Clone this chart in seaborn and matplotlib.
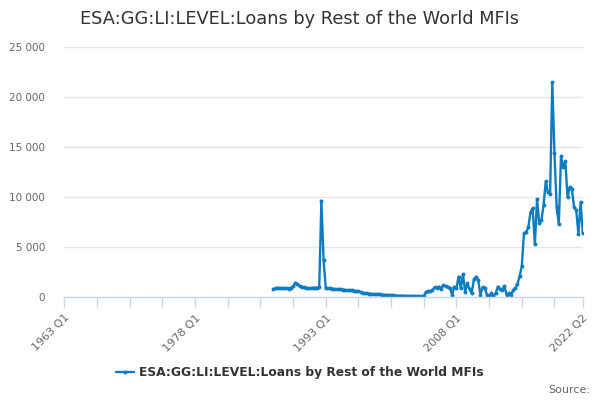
import matplotlib
matplotlib.use("Agg")
import matplotlib.pyplot as plt
import seaborn as sns
import pandas as pd
import numpy as np
from matplotlib.lines import Line2D

# ---- data ----
title = "ESA:GG:LI:LEVEL:Loans by Rest of the World MFIs"
series_name = "ESA:GG:LI:LEVEL:Loans by Rest of the World MFIs"
axis_start_year = 1963          # first category on the axis: 1963 Q1
data_start_year = 1987          # first observation: 1987 Q1
data_start_quarter = 1
tick_labels = ["1963 Q1", "1978 Q1", "1993 Q1", "2008 Q1", "2022 Q2"]
y_ticks = [0, 5000, 10000, 15000, 20000, 25000]

values = [
    # 1987 - 1992
    850, 900, 950, 900, 880, 920, 900, 870, 950, 1100, 1450, 1350,
    1100, 1050, 1000, 950, 920, 900, 930, 950, 960, 1000, 9650, 3730,
    # 1993 -
    950, 900, 880, 860, 850, 830, 800, 790, 770, 750, 730, 700,
    680, 650, 620, 600, 500, 420, 400, 380, 360, 340, 320, 300,
    300, 280, 260, 240, 220, 200, 190, 180, 170, 160, 150, 150,
    140, 130, 130, 120, 120, 110, 110, 100, 100, 100,
    # 2004 Q3 -
    550, 600, 580, 750, 1000, 900, 1060, 800, 1230, 1130, 1000, 900,
    250, 1060, 900, 2060, 900, 2300, 560, 1400, 800, 400, 1800, 2060,
    1700, 250, 1000, 900, 250, 80, 400, 80, 400, 1060, 800, 730,
    1130, 250, 400, 200, 700, 900, 1300, 2100, 3100,
    # 2015 Q3 -
    6400, 6500, 7000, 8500, 8900, 5300, 9800, 7400, 7700, 9200, 11600, 10500,
    10300, 21500, 14400, 9000, 7300, 14100, 13000, 13600, 10000, 11000, 10800, 9000,
    8700, 6300, 9500, 6400,
]

# ---- build table ----
start_idx = (data_start_year - axis_start_year) * 4 + (data_start_quarter - 1)
df = pd.DataFrame({
    "idx": np.arange(start_idx, start_idx + len(values)),
    "value": values,
})
df["series"] = series_name
last_idx = int(df["idx"].iloc[-1])

# ---- figure ----
sns.set_theme(style="white")
plt.rcParams["font.family"] = ["DejaVu Sans"]
fig = plt.figure(figsize=(6, 4), dpi=100)
ax = fig.add_axes([0.1073, 0.2568, 0.864, 0.625])

color = "#0e7cc1"
sns.lineplot(data=df, x="idx", y="value", hue="series", palette=[color],
             ax=ax, linewidth=1.7, marker="o", markersize=2.8,
             markeredgewidth=0, legend=False)

ax.set_xlim(0, last_idx)
ax.set_ylim(0, 25000)

# x ticks every 15 quarters plus the end
ticks = list(range(0, last_idx, 15)) + [last_idx]
ax.set_xticks(ticks)
label_pos = {0: tick_labels[0], 60: tick_labels[1], 120: tick_labels[2],
             180: tick_labels[3], last_idx: tick_labels[4]}
ax.set_xticklabels([label_pos.get(t, "") for t in ticks], rotation=45,
                   ha="right", rotation_mode="anchor", fontsize=8, color="#666666")
ax.tick_params(axis="x", length=7, width=1, color="#ccd6eb", pad=4, bottom=True)

ax.set_yticks(y_ticks)
ax.set_yticklabels([f"{v:,}".replace(",", " ") for v in y_ticks],
                   fontsize=7.5, color="#666666")
ax.tick_params(axis="y", length=0, pad=14)

ax.grid(axis="y", color="#e6e6e6", linewidth=1)
ax.grid(axis="x", visible=False)
for s in ["left", "top", "right"]:
    ax.spines[s].set_visible(False)
ax.spines["bottom"].set_color("#ccd6eb")
ax.spines["bottom"].set_linewidth(1)
ax.set_xlabel("")
ax.set_ylabel("")

fig.text(0.133, 0.953, title, fontsize=12.8, color="#333333", va="center", ha="left")

# legend
handle = Line2D([], [], color=color, linewidth=1.7, marker="o", markersize=2.8,
                markeredgewidth=0)
fig.legend([handle], [series_name], loc="center", bbox_to_anchor=(0.5, 0.068),
           frameon=False, prop={"weight": "bold", "size": 8.8},
           handlelength=1.5, handletextpad=0.4, labelcolor="#333333")

fig.text(0.983, 0.025, "Source:", fontsize=8, color="#666666", ha="right", va="center")

fig.savefig("out.png", dpi=100)
